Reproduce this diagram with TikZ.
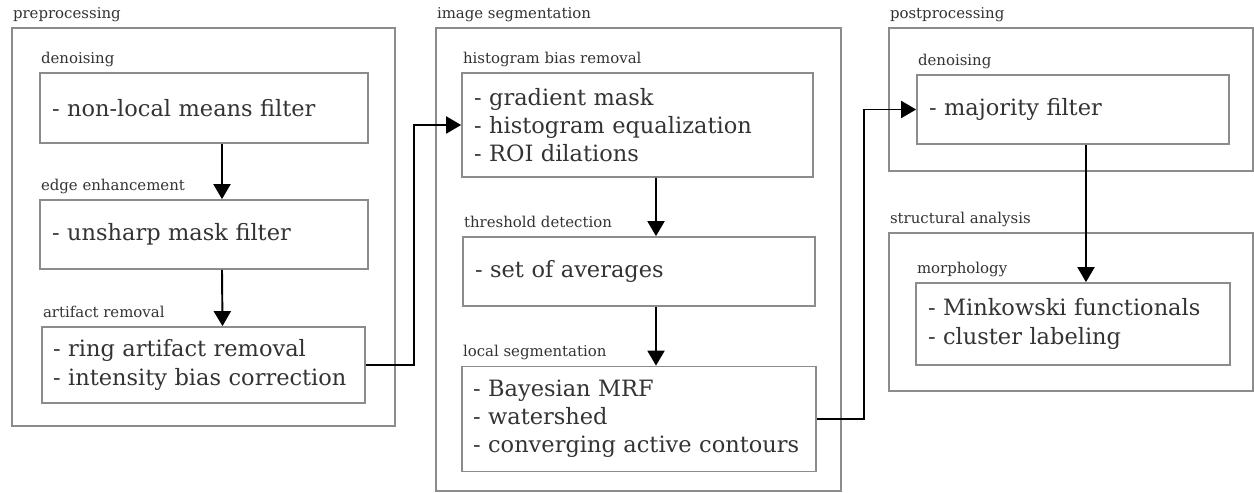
\documentclass[tikz,border=0pt]{standalone}
\usepackage{fontspec}
\setmainfont{DejaVu Serif}
\usetikzlibrary{arrows.meta}

\definecolor{framegray}{HTML}{8C8C8C}
\definecolor{inkgray}{HTML}{333333}

\tikzset{
  stagebox/.style={draw=framegray, line width=1pt, inner sep=0pt},
  procbox/.style={draw=framegray, line width=1pt, inner xsep=0.24cm, inner ysep=0pt,
    align=left, text=inkgray, font=\fontsize{12.8}{16}\selectfont},
  tag/.style={anchor=base west, inner sep=0pt, text=inkgray, font=\fontsize{8.5}{10}\selectfont},
  flow/.style={line width=1.1pt, -{Triangle[length=0.3cm, width=0.34cm]}},
}

\begin{document}
\begin{tikzpicture}[x=0.02cm, y=-0.02cm]
  \useasboundingbox (0,0) rectangle (1254,493);

  % stages
  \node[stagebox, minimum width=7.66cm, minimum height=7.96cm] (pre) at (203.5,227) {};
  \node[stagebox, minimum width=8.1cm, minimum height=9.26cm] (seg) at (638.5,259.5) {};
  \node[stagebox, minimum width=7.28cm, minimum height=2.86cm] (post) at (1071,99.5) {};
  \node[stagebox, minimum width=7.28cm, minimum height=3.16cm] (struct) at (1071,312) {};

  % steps
  \node[procbox, text width=6.08cm, minimum height=1.4cm] (nlm) at (204,108) {- non-local means filter};
  \node[procbox, text width=6.08cm, minimum height=1.38cm] (usm) at (204,234.5) {- unsharp mask filter};
  \node[procbox, inner xsep=0.22cm, text width=6.02cm, minimum height=1.52cm] (ring) at (203.5,365)
    {- ring artifact removal\\- intensity bias correction};
  \node[procbox, text width=6.54cm, minimum height=2.08cm] (hist) at (637.5,125)
    {- gradient mask\\- histogram equalization\\- ROI dilations};
  \node[procbox, text width=6.56cm, minimum height=1.38cm] (avg) at (639,271.5) {- set of averages};
  \node[procbox, inner xsep=0.22cm, text width=6.64cm, minimum height=2.1cm] (local) at (639,419)
    {- Bayesian MRF\\- watershed\\- converging active contours};
  \node[procbox, text width=5.76cm, minimum height=1.38cm] (maj) at (1073,109.5) {- majority filter};
  \node[procbox, text width=5.8cm, minimum height=1.64cm] (mink) at (1073,324)
    {- Minkowski functionals\\- cluster labeling};

  % titles
  \foreach \frm/\txt in {pre/preprocessing, seg/image segmentation, post/postprocessing,
      struct/structural analysis, nlm/denoising, usm/edge enhancement, ring/artifact removal,
      hist/histogram bias removal, avg/threshold detection, local/local segmentation,
      maj/denoising, mink/morphology}{
    \node[tag] (\frm-title) at ([xshift=0.03cm, yshift=0.18cm]\frm.north west) {\txt};
  }

  % flow
  \draw[flow] ([xshift=0.36cm]nlm.south) -- ([xshift=0.36cm]usm.north);
  \draw[flow] ([xshift=0.36cm]usm.south) -- ([xshift=0.38cm]ring.north);
  \draw[flow] (ring.east) -- ++(48,0) |- (hist.west);
  \draw[flow] ([xshift=0.37cm]hist.south) -- ([xshift=0.34cm]avg.north);
  \draw[flow] ([xshift=0.34cm]avg.south) -- ([xshift=0.34cm]local.north);
  \draw[flow] (local.east) -- ++(47,0) |- (maj.west);
  \draw[flow] ([xshift=0.26cm]maj.south) -- ([xshift=0.26cm]mink.north);
\end{tikzpicture}
\end{document}
